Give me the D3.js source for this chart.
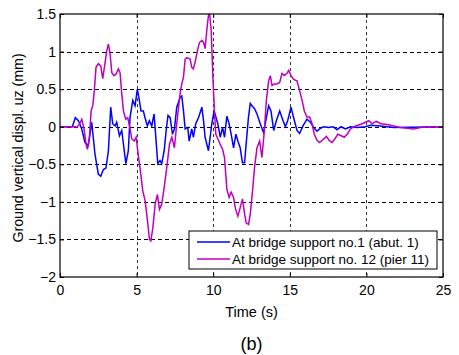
<!DOCTYPE html>
<html>
<head>
<meta charset="utf-8">
<script src="https://cdn.jsdelivr.net/npm/d3@7"></script>
<style>
  body { margin: 0; background: #fff; }
  text { font-family: "Liberation Sans", Arial, sans-serif; }
</style>
</head>
<body>
<div id="chart"></div>
<script>
// time (s) / displacement (mm)
var blueT = [0, 0.8, 1.0, 1.2, 1.42, 1.63, 1.85, 2.07, 2.28, 2.5, 2.66, 2.83, 3.0, 3.16, 3.31, 3.44, 3.6, 3.7, 3.88, 4.03, 4.14, 4.3, 4.46, 4.57, 4.75, 4.9, 5.05, 5.18, 5.29, 5.44, 5.55, 5.7, 5.83, 5.99, 6.14, 6.32, 6.38, 6.53, 6.64, 6.8, 6.93, 7.05, 7.19, 7.34, 7.47, 7.62, 7.84, 7.95, 8.06, 8.17, 8.34, 8.43, 8.6, 8.71, 8.86, 9.04, 9.26, 9.37, 9.47, 9.69, 9.8, 9.91, 10.06, 10.19, 10.3, 10.46, 10.61, 10.74, 10.89, 11.04, 11.17, 11.33, 11.48, 11.61, 11.76, 11.91, 12.05, 12.15, 12.3, 12.42, 12.57, 12.7, 12.86, 13.07, 13.29, 13.47, 13.62, 13.77, 13.95, 14.12, 14.34, 14.56, 14.71, 14.86, 15.08, 15.25, 15.47, 15.64, 15.86, 16.12, 16.34, 16.56, 16.78, 17.0, 17.21, 17.54, 17.82, 18.08, 18.35, 18.63, 18.96, 19.4, 19.94, 20.26, 20.92, 21.79, 25]
var blueV = [0, 0, 0.12, 0.08, -0.03, -0.21, -0.25, 0.06, -0.36, -0.63, -0.66, -0.57, -0.55, -0.32, 0.26, 0.04, 0.01, 0.06, -0.12, -0.05, -0.23, -0.49, -0.32, 0.12, 0.35, 0.28, 0.5, 0.35, 0.21, 0.21, 0.12, 0.01, 0.08, 0.01, 0.17, -0.32, -0.49, -0.45, -0.49, -0.32, -0.05, 0.15, 0.12, -0.1, -0.03, 0.26, 0.39, 0.41, 0.21, -0.03, -0.01, -0.19, -0.03, -0.14, 0.04, 0.12, 0.26, 0.08, -0.14, -0.32, -0.14, 0.04, 0.21, 0.12, 0.04, -0.14, -0.01, -0.14, 0.14, 0.04, -0.1, -0.28, -0.1, -0.19, -0.28, -0.48, -0.48, -0.23, 0.12, 0.31, 0.27, 0.24, 0.17, 0.04, -0.08, 0.12, 0.28, 0.21, -0.05, 0.08, 0.21, 0.08, 0, 0.08, 0.26, 0.12, -0.05, -0.09, 0.01, 0.1, 0.06, -0.01, -0.06, -0.02, 0, -0.01, 0, -0.04, 0, -0.03, 0, -0.01, 0, 0.02, 0.01, -0.01, 0]

var magT = [0, 1.0, 1.09, 1.26, 1.42, 1.57, 1.7, 1.79, 1.92, 2.03, 2.14, 2.24, 2.35, 2.5, 2.66, 2.79, 2.94, 3.05, 3.16, 3.27, 3.38, 3.53, 3.66, 3.81, 3.92, 4.03, 4.14, 4.29, 4.42, 4.58, 4.68, 4.84, 4.97, 5.08, 5.23, 5.4, 5.56, 5.71, 5.84, 5.93, 6.06, 6.21, 6.36, 6.49, 6.64, 6.8, 6.97, 7.15, 7.3, 7.47, 7.62, 7.84, 7.95, 8.06, 8.17, 8.28, 8.49, 8.6, 8.71, 8.82, 8.97, 9.1, 9.26, 9.37, 9.47, 9.58, 9.69, 9.76, 9.87, 9.98, 10.08, 10.17, 10.3, 10.45, 10.61, 10.74, 10.89, 11.04, 11.17, 11.33, 11.44, 11.61, 11.76, 11.91, 12.05, 12.15, 12.31, 12.42, 12.57, 12.7, 12.86, 13.03, 13.18, 13.34, 13.47, 13.62, 13.73, 13.84, 13.99, 14.16, 14.34, 14.49, 14.64, 14.82, 14.93, 15.08, 15.25, 15.47, 15.64, 15.8, 15.95, 16.12, 16.3, 16.45, 16.6, 16.78, 16.95, 17.17, 17.39, 17.6, 17.76, 17.98, 18.13, 18.35, 18.56, 18.78, 18.96, 19.28, 19.61, 19.94, 20.15, 20.37, 20.65, 20.96, 21.35, 21.79, 22.22, 22.66, 23.1, 23.53, 24.18, 25]
var magV = [0, 0, -0.01, 0.03, 0.1, -0.03, -0.23, -0.3, -0.14, 0.21, 0.28, 0.48, 0.79, 0.84, 0.81, 0.64, 0.85, 1.01, 1.1, 0.97, 0.72, 0.68, 0.7, 0.77, 0.72, 0.44, 0.21, 0.1, 0.12, -0.03, -0.16, -0.19, -0.14, -0.33, -0.56, -0.85, -0.99, -1.25, -1.5, -1.52, -1.35, -1.03, -0.9, -1.1, -1.03, -0.81, -0.54, -0.23, -0.14, -0.28, 0.04, 0.44, 0.57, 0.66, 0.9, 0.92, 0.9, 0.79, 0.77, 0.86, 1.01, 1.12, 1.15, 1.12, 1.04, 1.28, 1.48, 1.52, 1.28, 0.66, 0.21, -0.1, -0.16, -0.23, -0.3, -0.41, -0.83, -0.94, -0.87, -0.94, -1.08, -1.19, -1.08, -0.96, -1.16, -1.28, -1.3, -1.16, -0.85, -0.54, -0.28, -0.19, -0.41, -0.05, 0.35, 0.61, 0.68, 0.55, 0.57, 0.57, 0.59, 0.71, 0.68, 0.71, 0.75, 0.68, 0.63, 0.61, 0.48, 0.35, 0.21, 0.13, 0.13, 0.04, -0.1, -0.18, -0.21, -0.17, -0.13, -0.19, -0.21, -0.15, -0.1, -0.12, -0.14, -0.09, -0.03, 0.01, 0.03, 0.06, 0.08, 0.04, 0.07, 0.04, 0.03, 0.01, -0.01, -0.02, -0.03, -0.01, 0, 0]

var xTicks = [0, 5, 10, 15, 20, 25]
var yTicks = [-2, -1.5, -1, -0.5, 0, 0.5, 1, 1.5]
var seriesNames = ['At bridge support no.1 (abut. 1)', 'At bridge support no. 12 (pier 11)']
var seriesColors = ['#0000ff', '#c000c0']

var W = 459, H = 355
var margin = {left: 60, top: 14, right: 16, bottom: 78}
var pw = W - margin.left - margin.right
var ph = H - margin.top - margin.bottom

var svg = d3.select('#chart').append('svg')
  .attr('width', W)
  .attr('height', H)

var x = d3.scaleLinear().domain([0, 25]).range([margin.left, margin.left + pw])
var y = d3.scaleLinear().domain([-2, 1.5]).range([margin.top + ph, margin.top])

// grid
var grid = svg.append('g').attr('class', 'grid')
grid.selectAll('line.gx')
  .data(xTicks.slice(1, -1))
  .enter().append('line')
  .attr('x1', d => Math.round(x(d)) + 0.5)
  .attr('x2', d => Math.round(x(d)) + 0.5)
  .attr('y1', y(1.5))
  .attr('y2', y(-2))
  .style('stroke', '#333')
  .style('stroke-dasharray', '3,3')
grid.selectAll('line.gy')
  .data(yTicks.slice(1, -1))
  .enter().append('line')
  .attr('x1', x(0))
  .attr('x2', x(25))
  .attr('y1', d => Math.round(y(d)) + 0.5)
  .attr('y2', d => Math.round(y(d)) + 0.5)
  .style('stroke', '#000')
  .style('stroke-dasharray', '4,3')

// curves
var line = d3.line()
  .x(d => x(d[0]))
  .y(d => y(d[1]))

var clip = svg.append('clipPath').attr('id', 'clip')
  .append('rect')
  .attr('x', x(0)).attr('y', y(1.5))
  .attr('width', pw).attr('height', ph)

svg.append('path')
  .datum(blueT.map((t, i) => [t, blueV[i]]))
  .attr('d', line)
  .attr('clip-path', 'url(#clip)')
  .style('fill', 'none')
  .style('stroke', seriesColors[0])
  .style('stroke-width', 1.5)

svg.append('path')
  .datum(magT.map((t, i) => [t, magV[i]]))
  .attr('d', line)
  .attr('clip-path', 'url(#clip)')
  .style('fill', 'none')
  .style('stroke', seriesColors[1])
  .style('stroke-width', 1.5)

// axes, ticks inside on all four sides
svg.append('g')
  .attr('transform', 'translate(0,' + y(-2) + ')')
  .call(d3.axisBottom(x).tickValues(xTicks).tickSizeInner(-4).tickSizeOuter(0).tickPadding(8))
svg.append('g')
  .attr('transform', 'translate(0,' + y(1.5) + ')')
  .call(d3.axisTop(x).tickValues(xTicks).tickSizeInner(-4).tickSizeOuter(0).tickFormat(''))
svg.append('g')
  .attr('transform', 'translate(' + x(0) + ',0)')
  .call(d3.axisLeft(y).tickValues(yTicks).tickSizeInner(-4).tickSizeOuter(0).tickPadding(4).tickFormat(d3.format('')))
svg.append('g')
  .attr('transform', 'translate(' + x(25) + ',0)')
  .call(d3.axisRight(y).tickValues(yTicks).tickSizeInner(-4).tickSizeOuter(0).tickFormat(''))

svg.selectAll('.tick text')
  .style('font-size', '14px')
  .style('fill', '#000')
  .style('font-family', '"Liberation Sans", Arial, sans-serif')
svg.selectAll('.domain').remove()

svg.append('rect')
  .attr('x', x(0)).attr('y', y(1.5))
  .attr('width', pw).attr('height', ph)
  .style('fill', 'none')
  .style('stroke', '#000')
  .style('stroke-width', 1.2)

// labels
svg.append('text')
  .text('Time (s)')
  .attr('x', x(12.5))
  .attr('y', 317)
  .attr('text-anchor', 'middle')
  .style('font-size', '14.5px')

svg.append('text')
  .text('(b)')
  .attr('x', x(12.5))
  .attr('y', 350)
  .attr('text-anchor', 'middle')
  .style('font-size', '18px')

svg.append('text')
  .text('Ground vertical displ. uz (mm)')
  .attr('transform', 'translate(23,148) rotate(-90)')
  .attr('text-anchor', 'middle')
  .style('font-size', '14.2px')

// legend
var lx = 189, ly = 231
var legend = svg.append('g').attr('class', 'legend')
legend.append('rect')
  .attr('x', lx).attr('y', ly)
  .attr('width', 248).attr('height', 38)
  .style('fill', '#fff')
  .style('stroke', '#000')
  .style('stroke-width', 1)

seriesNames.forEach(function(name, i) {
  var yy = ly + 11 + i * 17
  legend.append('line')
    .attr('x1', lx + 8).attr('x2', lx + 41)
    .attr('y1', yy).attr('y2', yy)
    .style('stroke', seriesColors[i])
    .style('stroke-width', 1.5)
  legend.append('text')
    .text(name)
    .attr('x', lx + 43)
    .attr('y', yy + 5)
    .style('font-size', '13.5px')
})
</script>
</body>
</html>
